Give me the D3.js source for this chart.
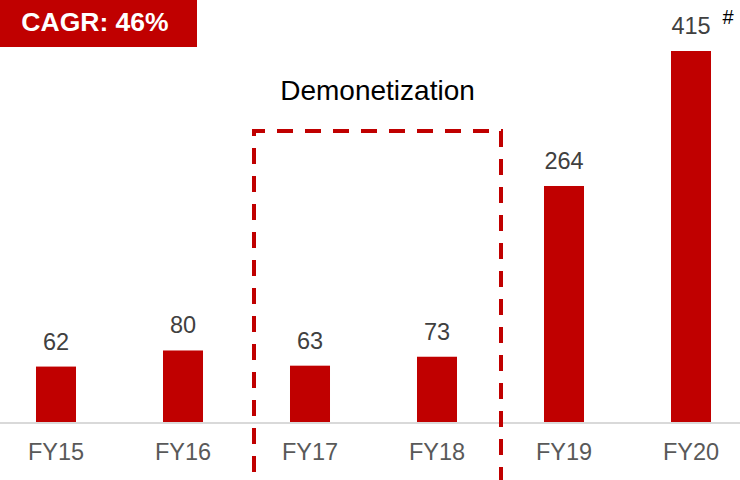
<!DOCTYPE html>
<html>
<head>
<meta charset="utf-8">
<script src="https://cdn.jsdelivr.net/npm/d3@7"></script>
<style>
  body { margin: 0; background: #fff; }
  svg { display: block; font-family: "Liberation Sans", Arial, sans-serif; }
</style>
</head>
<body>
<div id="chart"></div>
<script>
// Data
const years = ["FY15", "FY16", "FY17", "FY18", "FY19", "FY20"];
const values = [62, 80, 63, 73, 264, 415];
const boxYears = ["FY17", "FY18"];

const width = 740;
const height = 480;
const baseY = 422;
const red = "#c00000";

const svg = d3.select("#chart")
    .append("svg")
    .attr("width", width)
    .attr("height", height);

// Scales
const x = d3.scaleBand()
    .domain(years)
    .range([-7.5, 754.5])
    .paddingInner(0.685)
    .paddingOuter(0.3425);

const y = d3.scaleLinear()
    .domain([0, 415])
    .range([baseY, 51]);

// Bars
svg.selectAll("rect.bar")
    .data(years)
    .enter().append("rect")
    .attr("class", "bar")
    .attr("x", d => x(d))
    .attr("y", (d, i) => y(values[i]))
    .attr("width", x.bandwidth())
    .attr("height", (d, i) => baseY - y(values[i]))
    .attr("fill", red);

// Baseline
svg.append("line")
    .attr("x1", 0)
    .attr("x2", width)
    .attr("y1", baseY + 1)
    .attr("y2", baseY + 1)
    .attr("stroke", "#d9d9d9")
    .attr("stroke-width", 2);

// Value labels
svg.selectAll("text.value")
    .data(years)
    .enter().append("text")
    .attr("class", "value")
    .attr("x", d => x(d) + x.bandwidth() / 2)
    .attr("y", (d, i) => y(values[i]) - 17)
    .attr("text-anchor", "middle")
    .attr("font-size", 23.5)
    .attr("fill", "#404040")
    .text((d, i) => values[i]);

// "#" marker next to the last value
const last = years[years.length - 1];
svg.append("text")
    .attr("x", x(last) + x.bandwidth() / 2 + 37)
    .attr("y", 24)
    .attr("text-anchor", "middle")
    .attr("font-size", 20)
    .attr("fill", "#000")
    .text("#");

// Category axis
const xAxis = svg.append("g")
    .attr("transform", `translate(0,${baseY})`)
    .call(d3.axisBottom(x).tickSize(0).tickPadding(0));
xAxis.select(".domain").remove();
xAxis.selectAll("text")
    .attr("y", 38)
    .attr("dy", null)
    .attr("font-size", 23.5)
    .attr("font-family", "\"Liberation Sans\", Arial, sans-serif")
    .attr("fill", "#595959");

// Demonetization box
const boxLeft = x(boxYears[0]) - 36;
const boxRight = x(boxYears[1]) + x.bandwidth() + 44;
svg.append("path")
    .attr("d", `M${boxLeft},${height + 20} V131 H${boxRight} V${height + 20}`)
    .attr("fill", "none")
    .attr("stroke", red)
    .attr("stroke-width", 4)
    .attr("stroke-dasharray", "16,12");

svg.append("text")
    .attr("x", (boxLeft + boxRight) / 2)
    .attr("y", 100)
    .attr("text-anchor", "middle")
    .attr("font-size", 28)
    .attr("fill", "#000")
    .text("Demonetization");

// CAGR badge
svg.append("rect")
    .attr("x", 0)
    .attr("y", 0)
    .attr("width", 197)
    .attr("height", 47)
    .attr("fill", red);

svg.append("text")
    .attr("x", 95)
    .attr("y", 31)
    .attr("text-anchor", "middle")
    .attr("font-size", 26.5)
    .attr("font-weight", "bold")
    .attr("fill", "#fff")
    .text("CAGR: 46%");
</script>
</body>
</html>
